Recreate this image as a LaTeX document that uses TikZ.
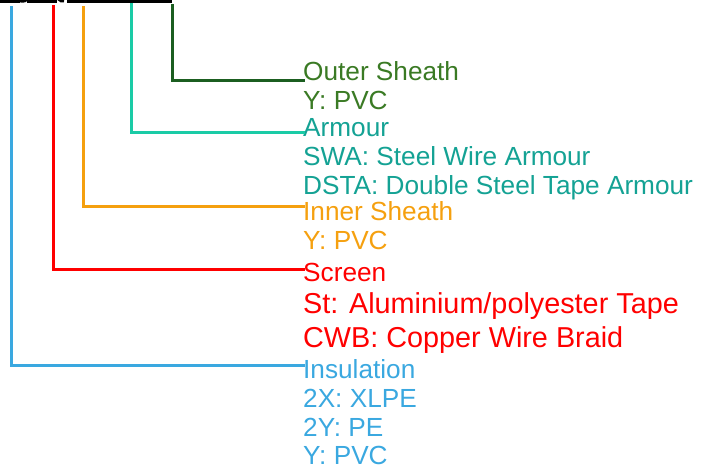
\documentclass[tikz,border=0pt]{standalone}
\usepackage{fontspec}
\setmainfont{Liberation Sans}
\definecolor{cblue}{HTML}{3AA8E0}
\definecolor{cred}{HTML}{FF0000}
\definecolor{corange}{HTML}{F5A00F}
\definecolor{ctealline}{HTML}{1ACBA6}
\definecolor{ctealtext}{HTML}{14A294}
\definecolor{cgreenline}{HTML}{1B5E20}
\definecolor{cgreentext}{HTML}{3A7A24}
\tikzset{
  lbl/.style={anchor=base west, inner sep=0pt, font=\fontsize{26.2}{29}\selectfont},
  biglbl/.style={anchor=base west, inner sep=0pt, font=\fontsize{28.8}{32}\selectfont},
  leader/.style={line width=3pt, line cap=rect},
}
\begin{document}
\begin{tikzpicture}[x=1pt,y=-1pt]
\useasboundingbox (0,0) rectangle (701,469);
% clipped black marks at the top
\draw[line width=3.4pt] (0,1.2) -- (20,1.2);
\draw[line width=2.4pt] (20,1.2) .. controls (24,2) and (26,1) .. (28,-1);
\draw[line width=3.4pt] (27,1.2) -- (57,1.2);
\draw[line width=2.4pt] (58,-1) .. controls (60,1) and (62,2) .. (64,1.2);
\draw[line width=3.4pt] (67,1.2) -- (172,1.2);

% Outer sheath
\node[lbl, text=cgreentext] (outer) at (303,80) {Outer Sheath};
\node[lbl, text=cgreentext] (outer2) at (303,109) {Y: PVC};
% Armour
\node[lbl, text=ctealtext] (arm) at (303,136) {Armour};
\node[lbl, text=ctealtext] (arm2) at (303,165) {SWA: Steel Wire Armour};
\node[lbl, text=ctealtext] (arm3) at (303,194) {DSTA: Double Steel Tape Armour};
% Inner sheath
\node[lbl, text=corange] (inner) at (303,220) {Inner Sheath};
\node[lbl, text=corange] (inner2) at (303,249) {Y: PVC};
% Screen
\node[lbl, text=cred] (scr) at (303,281) {Screen};
\node[biglbl, text=cred] (scr2) at (303,313) {St: Aluminium/polyester Tape};
\node[biglbl, text=cred] (scr3) at (303,347) {CWB: Copper Wire Braid};
% Insulation
\node[lbl, text=cblue] (ins) at (303,378) {Insulation};
\node[lbl, text=cblue] (ins2) at (303,407) {2X: XLPE};
\node[lbl, text=cblue] (ins3) at (303,436) {2Y: PE};
\node[lbl, text=cblue] (ins4) at (303,464) {Y: PVC};

\coordinate (tgreen) at (172,5);
\coordinate (tteal) at (131,4);
\coordinate (torange) at (83,7);
\coordinate (tred) at (53,6);
\coordinate (tblue) at (11,7);

\draw[leader, cgreenline] (tgreen) |- ([yshift=0pt]outer.base west);
\draw[leader, ctealline] (tteal) |- ([yshift=4pt]arm.base west);
\draw[leader, corange] (torange) |- ([yshift=14pt]inner.base west);
\draw[leader, cred] (tred) |- ([yshift=12pt]scr.base west);
\draw[leader, cblue] (tblue) |- ([yshift=13pt]ins.base west);
\end{tikzpicture}
\end{document}
